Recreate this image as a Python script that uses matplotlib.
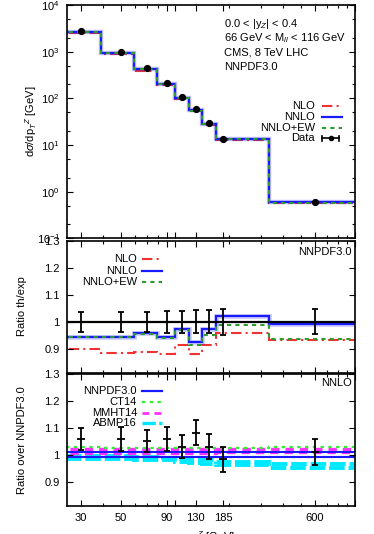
import numpy as np
import matplotlib
matplotlib.use("Agg")
import matplotlib.pyplot as plt
from matplotlib.ticker import FixedLocator, NullFormatter, FixedFormatter

plt.rcParams['font.family'] = ['Liberation Sans', 'DejaVu Sans']
plt.rcParams['mathtext.fontset'] = 'custom'
plt.rcParams['mathtext.rm'] = 'Liberation Sans'
plt.rcParams['mathtext.it'] = 'Liberation Sans:italic'
plt.rcParams['mathtext.sf'] = 'Liberation Sans'

# ---------------- data ----------------
pt_centers = [30, 50, 70, 90, 110, 130, 155, 185, 600]
xtick_vals = [30, 50, 90, 130, 185, 600]
xtick_labels = ['30', '50', '90', '130', '185', '600']

data_xs = [2780, 1004, 444, 215, 107, 60.0, 29.7, 13.5, 0.608]
data_relerr = [0.038, 0.038, 0.038, 0.040, 0.040, 0.042, 0.042, 0.048, 0.046]

nlo_xs = [2502, 890, 395, 189, 97.9, 52.8, 27.2, 13.0, 0.567]
nnlo_xs = [2627, 949, 425, 203, 104, 55.5, 29.0, 13.8, 0.603]
nnloew_xs = [2624, 948, 424, 202, 104, 54.8, 28.3, 13.3, 0.568]

ratio_nlo = [0.900, 0.886, 0.890, 0.880, 0.915, 0.880, 0.915, 0.960, 0.932]
ratio_nnlo = [0.945, 0.945, 0.957, 0.944, 0.973, 0.925, 0.974, 1.020, 0.991]
ratio_nnloew = [0.943, 0.943, 0.955, 0.940, 0.970, 0.914, 0.952, 0.988, 0.935]

data_over_nnpdf = [1.059, 1.060, 1.052, 1.060, 1.031, 1.083, 1.031, 0.984, 1.010]
data_over_nnpdf_err = [0.041, 0.044, 0.042, 0.044, 0.044, 0.048, 0.045, 0.047, 0.048]

nnpdf_hi = [1.009, 1.009, 1.009, 1.009, 1.009, 1.009, 1.009, 1.009, 1.009]
nnpdf_lo = [0.991, 0.991, 0.991, 0.991, 0.991, 0.991, 0.991, 0.991, 0.991]
ct14_hi = [1.028, 1.027, 1.027, 1.026, 1.026, 1.026, 1.027, 1.027, 1.028]
ct14_lo = [0.993, 0.993, 0.993, 0.993, 0.993, 0.993, 0.993, 0.993, 0.994]
mmht_hi = [1.021, 1.021, 1.021, 1.021, 1.021, 1.022, 1.022, 1.022, 1.022]
mmht_lo = [1.006, 1.006, 1.006, 1.007, 1.007, 1.008, 1.008, 1.009, 1.009]
abmp_hi = [0.995, 0.995, 0.993, 0.990, 0.985, 0.982, 0.980, 0.975, 0.968]
abmp_lo = [0.985, 0.985, 0.982, 0.980, 0.975, 0.970, 0.968, 0.962, 0.952]

# ---------------- styling ----------------
C_NLO = '#f03232'
C_NNLO = '#1a1aff'
C_EW = '#2f9a2f'
C_CT = '#33ee33'
C_MM = '#ff30ff'
C_AB = '#00e8ff'

LS_NLO = (0, (5, 2, 1, 2))
LS_EW = (0, (2, 2))
LS_CT = (0, (1.5, 2))
LS_MM = (0, (2.5, 1.8))
LS_AB = (0, (4, 1))

X_MIN, X_MAX = 25, 1000
# step edges: geometric midpoints between neighbouring points (histeps)
c = np.array(pt_centers, dtype=float)
edges = np.concatenate([[15], np.sqrt(c[:-1] * c[1:]), [1500]])

fig = plt.figure(figsize=(3.74, 5.34), dpi=100)
L, W = 0.1783, 0.7709
ax1 = fig.add_axes([L, 0.5534, W, 0.4372])
ax2 = fig.add_axes([L, 0.3021, W, 0.2472])
ax3 = fig.add_axes([L, 0.0530, W, 0.2461])

FS = 8

def style_axes(ax):
    ax.set_xscale('log')
    ax.set_xlim(X_MIN, X_MAX)
    for s in ax.spines.values():
        s.set_linewidth(1.2)
    minor = [v * d for d in (10, 100) for v in range(2, 10)]
    ax.xaxis.set_minor_locator(FixedLocator(minor))
    ax.xaxis.set_minor_formatter(NullFormatter())
    ax.xaxis.set_major_locator(FixedLocator(xtick_vals + [100, 1000]))
    ax.tick_params(which='both', direction='in', top=True, right=True,
                   labelsize=FS, width=0.8)
    ax.tick_params(which='major', length=4.5, pad=5)
    ax.tick_params(which='minor', length=2.5)

for ax in (ax1, ax2, ax3):
    style_axes(ax)

# ---------------- top panel ----------------
ax1.set_yscale('log')
ax1.set_ylim(0.1, 1e4)
ax1.stairs(nlo_xs, edges, baseline=None, color=C_NLO, lw=1.5, linestyle=LS_NLO)
ax1.stairs(nnlo_xs, edges, baseline=None, color=C_NNLO, lw=3.2, alpha=0.25)
ax1.stairs(nnlo_xs, edges, baseline=None, color=C_NNLO, lw=1.6)
ax1.stairs(nnloew_xs, edges, baseline=None, color=C_EW, lw=1.5, linestyle=LS_EW)
yerr_top = [v * e for v, e in zip(data_xs, data_relerr)]
ax1.errorbar(pt_centers, data_xs, yerr=yerr_top, fmt='o', color='black',
             ms=4.2, lw=1.0, capsize=1.5)
ax1.yaxis.set_major_locator(FixedLocator([0.1, 1, 10, 100, 1000, 10000]))
ax1.yaxis.set_major_formatter(FixedFormatter(
    [r'$10^{-1}$', r'$10^{0}$', r'$10^{1}$', r'$10^{2}$', r'$10^{3}$', r'$10^{4}$']))
ax1.yaxis.set_minor_locator(FixedLocator(
    [m * 10.0 ** k for k in range(-1, 4) for m in (2, 5)]))
ax1.yaxis.set_minor_formatter(NullFormatter())
ax1.set_xticklabels([])

info = ['0.0 < |y$_Z$| < 0.4', '66 GeV < M$_{ll}$ < 116 GeV',
        'CMS, 8 TeV LHC', 'NNPDF3.0']
for txt, yy in zip(info, [0.917, 0.860, 0.796, 0.736]):
    ax1.text(0.546, yy, txt, transform=ax1.transAxes, fontsize=FS,
             ha='left', va='center')

tx, s0, s1 = 0.861, 0.886, 0.955
leg_rows = [0.567, 0.522, 0.475, 0.429]
ax1.text(tx, leg_rows[0], 'NLO', transform=ax1.transAxes, fontsize=FS, ha='right', va='center')
ax1.plot([s0, s1], [leg_rows[0]] * 2, transform=ax1.transAxes, color=C_NLO, lw=1.5,
         linestyle=LS_NLO)
ax1.text(tx, leg_rows[1], 'NNLO', transform=ax1.transAxes, fontsize=FS, ha='right', va='center')
ax1.plot([s0, s1], [leg_rows[1]] * 2, transform=ax1.transAxes, color=C_NNLO, lw=1.6)
ax1.text(tx, leg_rows[2], 'NNLO+EW', transform=ax1.transAxes, fontsize=FS, ha='right', va='center')
ax1.plot([s0, s1], [leg_rows[2]] * 2, transform=ax1.transAxes, color=C_EW, lw=1.5,
         linestyle=LS_EW)
ax1.text(tx, leg_rows[3], 'Data', transform=ax1.transAxes, fontsize=FS, ha='right', va='center')
ax1.plot([s0, s1 - 0.01], [leg_rows[3]] * 2, transform=ax1.transAxes, color='black', lw=1.2)
for xx in (s0, s1 - 0.01):
    ax1.plot([xx, xx], [leg_rows[3] - 0.012, leg_rows[3] + 0.012], transform=ax1.transAxes,
             color='black', lw=1.2)
ax1.plot([(s0 + s1 - 0.01) / 2], [leg_rows[3]], 'o', transform=ax1.transAxes,
         color='black', ms=3)

# ---------------- middle panel ----------------
ax2.set_ylim(0.812, 1.3)
ax2.axhline(1.0, color='black', lw=1.6)
ax2.errorbar(pt_centers, [1.0] * len(pt_centers), yerr=data_relerr, fmt='none',
             ecolor='black', elinewidth=1.3, capsize=2.5, capthick=1.3)
ax2.stairs(ratio_nlo, edges, baseline=None, color=C_NLO, lw=1.5, linestyle=LS_NLO)
ax2.stairs(ratio_nnlo, edges, baseline=None, color=C_NNLO, lw=3.4, alpha=0.22)
ax2.stairs(ratio_nnlo, edges, baseline=None, color=C_NNLO, lw=1.6)
ax2.stairs(ratio_nnloew, edges, baseline=None, color=C_EW, lw=1.5, linestyle=LS_EW)
ax2.yaxis.set_major_locator(FixedLocator([0.9, 1.0, 1.1, 1.2, 1.3]))
ax2.yaxis.set_major_formatter(FixedFormatter(['0.9', '1', '1.1', '1.2', '1.3']))
ax2.set_xticklabels([])
ax2.text(0.99, 0.917, 'NNPDF3.0', transform=ax2.transAxes, fontsize=FS,
         ha='right', va='center')
tx2, q0, q1 = 0.244, 0.261, 0.331
m_rows = [0.86, 0.773, 0.686]
m_items = [('NLO', C_NLO, LS_NLO, 1.5), ('NNLO', C_NNLO, '-', 1.6),
           ('NNLO+EW', C_EW, LS_EW, 1.5)]
for (lab, col, ls, lw), yy in zip(m_items, m_rows):
    ax2.text(tx2, yy, lab, transform=ax2.transAxes, fontsize=FS, ha='right', va='center')
    ax2.plot([q0, q1], [yy, yy], transform=ax2.transAxes, color=col, lw=lw, linestyle=ls)

# ---------------- bottom panel ----------------
ax3.set_ylim(0.811, 1.3)
for arr in (abmp_hi, abmp_lo):
    ax3.stairs(arr, edges, baseline=None, color=C_AB, lw=2.8, linestyle=LS_AB)
for arr in (mmht_hi, mmht_lo):
    ax3.stairs(arr, edges, baseline=None, color=C_MM, lw=2.4, linestyle=LS_MM)
for arr in (ct14_hi, ct14_lo):
    ax3.stairs(arr, edges, baseline=None, color=C_CT, lw=1.6, linestyle=LS_CT)
for arr in (nnpdf_hi, nnpdf_lo):
    ax3.stairs(arr, edges, baseline=None, color=C_NNLO, lw=1.5)
ax3.errorbar(pt_centers, data_over_nnpdf, yerr=data_over_nnpdf_err, fmt='_',
             color='black', ms=6, mew=1.3, elinewidth=1.3, capsize=2.5, capthick=1.3)
ax3.yaxis.set_major_locator(FixedLocator([0.9, 1.0, 1.1, 1.2, 1.3]))
ax3.yaxis.set_major_formatter(FixedFormatter(['0.9', '1', '1.1', '1.2', '1.3']))
ax3.xaxis.set_major_formatter(FixedFormatter(xtick_labels + ['', '']))
ax3.text(0.99, 0.934, 'NNLO', transform=ax3.transAxes, fontsize=FS,
         ha='right', va='center')
b_rows = [0.869, 0.789, 0.709, 0.629]
b_items = [('NNPDF3.0', C_NNLO, '-', 1.6), ('CT14', C_CT, LS_CT, 1.6),
           ('MMHT14', C_MM, LS_MM, 2.0), ('ABMP16', C_AB, LS_AB, 2.4)]
for (lab, col, ls, lw), yy in zip(b_items, b_rows):
    ax3.text(tx2, yy, lab, transform=ax3.transAxes, fontsize=FS, ha='right', va='center')
    ax3.plot([q0, q1], [yy, yy], transform=ax3.transAxes, color=col, lw=lw, linestyle=ls)

# ---------------- axis titles ----------------
fig.text(31 / 374, 1 - 121 / 534, r'd$\sigma$/dp$_T$$^Z$ [GeV]', rotation=90,
         fontsize=FS, ha='center', va='center')
fig.text(22 / 374, 1 - 306 / 534, 'Ratio th/exp', rotation=90,
         fontsize=FS, ha='center', va='center')
fig.text(22 / 374, 1 - 440 / 534, 'Ratio over NNPDF3.0', rotation=90,
         fontsize=FS, ha='center', va='center')
fig.text(211 / 374, 1 - 537 / 534, r'p$_T$$^Z$ [GeV]', fontsize=FS,
         ha='center', va='center')

fig.savefig('out.png', dpi=100)
